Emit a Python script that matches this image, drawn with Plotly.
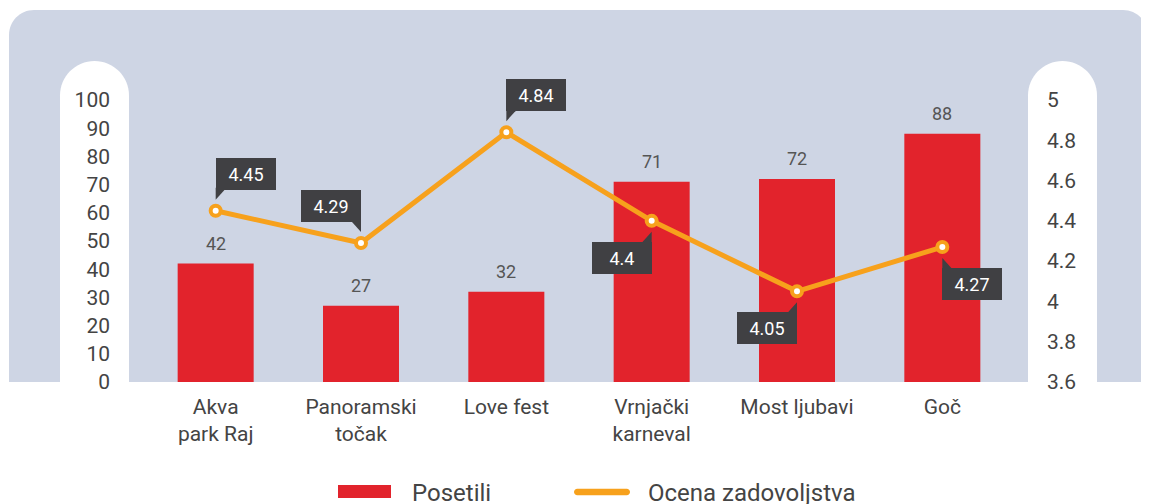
import plotly.graph_objects as go

# ---------------- data ----------------
categories = ["Akva<br>park Raj", "Panoramski<br>točak", "Love fest",
              "Vrnjački<br>karneval", "Most ljubavi", "Goč"]
visitors = [42, 27, 32, 71, 72, 88]
ratings = [4.45, 4.29, 4.84, 4.4, 4.05, 4.27]
rating_labels = ["4.45", "4.29", "4.84", "4.4", "4.05", "4.27"]
# callout placement: (horizontal side, vertical side): +1 right/above, -1 left/below
callout_side = [(1, 1), (-1, 1), (1, 1), (-1, -1), (-1, -1), (1, -1)]
left_ticks = [0, 10, 20, 30, 40, 50, 60, 70, 80, 90, 100]
right_ticks = [3.6, 3.8, 4.0, 4.2, 4.4, 4.6, 4.8, 5.0]
right_tick_text = ["3.6", "3.8", "4", "4.2", "4.4", "4.6", "4.8", "5"]
series_names = ["Posetili", "Ocena zadovoljstva"]

# ---------------- style ----------------
FONT = "Roboto"
RED = "#E2232C"
ORANGE = "#F7A11C"
BOX = "#404043"
BG = "#CED5E4"
TXT = "#444444"

fig = go.Figure()
fig.add_trace(go.Bar(x=categories, y=visitors, marker=dict(color=RED, line=dict(width=0)),
                     name=series_names[0], yaxis="y", showlegend=False, hoverinfo="x+y"))
fig.add_trace(go.Scatter(x=categories, y=ratings, mode="lines+markers", name=series_names[1],
                         yaxis="y2", showlegend=False,
                         line=dict(color=ORANGE, width=5),
                         marker=dict(size=10, color="white", line=dict(color=ORANGE, width=4))))

shapes = []
annotations = []

# background panel (pixel offsets relative to the plot area's top-left corner)
k = 0.5523
r = 25
L, R, T, B = -134, 1005, 90, -282
bg_path = (f"M {L},{B} L {L},{T - r} C {L},{T - r + k * r} {L + r - k * r},{T} {L + r},{T} "
           f"L {R - r},{T} C {R - r + k * r},{T} {R},{T - r + k * r} {R},{T - r} L {R},{B} Z")
shapes.append(dict(type="path", xref="paper", yref="paper", xsizemode="pixel", ysizemode="pixel",
                   xanchor=0, yanchor=1, path=bg_path, fillcolor=BG, line=dict(width=0), layer="below"))


def pill(x0, x1, top, bottom):
    rr = (x1 - x0) / 2
    cx = x0 + rr
    cy = top - rr
    return (f"M {x0},{bottom} L {x0},{cy} C {x0},{cy + k * rr} {cx - k * rr},{top} {cx},{top} "
            f"C {cx + k * rr},{top} {x1},{cy + k * rr} {x1},{cy} L {x1},{bottom} Z")


for x0, x1 in [(-83, -14), (885, 954)]:
    shapes.append(dict(type="path", xref="paper", yref="paper", xsizemode="pixel", ysizemode="pixel",
                       xanchor=0, yanchor=1, path=pill(x0, x1, 39, -282), fillcolor="white",
                       line=dict(width=0), layer="below"))

# bar value labels
for c, v in zip(categories, visitors):
    annotations.append(dict(x=c, y=v, xref="x", yref="y", text=str(v), showarrow=False,
                            yanchor="middle", yshift=20, font=dict(family=FONT, size=18, color="#555555")))

# rating callouts
for i, (c, v, lab, (sx, sy)) in enumerate(zip(categories, ratings, rating_labels, callout_side)):
    annotations.append(dict(x=c, y=v, xref="x", yref="y2", text=lab, showarrow=False,
                            xanchor="left" if sx > 0 else "right",
                            yanchor="bottom" if sy > 0 else "top",
                            yshift=21 * sy, width=60, height=32, borderpad=0, borderwidth=0,
                            bgcolor=BOX, align="center", valign="middle",
                            font=dict(family=FONT, size=18, color="white")))
    shapes.append(dict(type="path", xref="x", yref="y2", xsizemode="pixel", ysizemode="pixel",
                       xanchor=i, yanchor=v,
                       path=f"M 0,{11 * sy} L 0,{23 * sy} L {9 * sx},{23 * sy} L {9 * sx},{21 * sy} Z",
                       fillcolor=BOX, line=dict(width=0), layer="above"))

# custom legend (pixel offsets relative to plot area's bottom-left corner)
shapes.append(dict(type="rect", xref="paper", yref="paper", xsizemode="pixel", ysizemode="pixel",
                   xanchor=0, yanchor=0, x0=195, x1=248, y0=-103, y1=-116,
                   fillcolor=RED, line=dict(width=0)))
lr = 3.3
lx0, lx1, ly = 431, 487, -110
leg_line = (f"M {lx0 + lr},{ly + lr} L {lx1 - lr},{ly + lr} C {lx1 - lr + k * lr},{ly + lr} {lx1},{ly + k * lr} {lx1},{ly} "
            f"C {lx1},{ly - k * lr} {lx1 - lr + k * lr},{ly - lr} {lx1 - lr},{ly - lr} L {lx0 + lr},{ly - lr} "
            f"C {lx0 + lr - k * lr},{ly - lr} {lx0},{ly - k * lr} {lx0},{ly} C {lx0},{ly + k * lr} {lx0 + lr - k * lr},{ly + lr} {lx0 + lr},{ly + lr} Z")
shapes.append(dict(type="path", xref="paper", yref="paper", xsizemode="pixel", ysizemode="pixel",
                   xanchor=0, yanchor=0, path=leg_line, fillcolor=ORANGE, line=dict(width=0)))
for name, xs in zip(series_names, [267, 503]):
    annotations.append(dict(x=0, y=0, xref="paper", yref="paper", text=name, showarrow=False,
                            xanchor="left", yanchor="middle", xshift=xs, yshift=-111,
                            font=dict(family=FONT, size=24, color=TXT)))

fig.update_layout(
    width=1141, height=496, autosize=False,
    margin=dict(l=135, r=134, t=92, b=122),
    paper_bgcolor="white", plot_bgcolor="rgba(0,0,0,0)",
    font=dict(family=FONT, color=TXT),
    bargap=0.477,
    showlegend=False,
    xaxis=dict(type="category", showgrid=False, zeroline=False, showline=False, ticks="",
               tickfont=dict(family=FONT, size=21, color=TXT), ticklabelstandoff=10),
    yaxis=dict(range=[0, 100], tickvals=left_ticks, showgrid=False, zeroline=False, showline=False,
               ticks="", tickfont=dict(family=FONT, size=21, color=TXT), ticklabelstandoff=32),
    yaxis2=dict(range=[3.6, 5.0], tickvals=right_ticks, ticktext=right_tick_text, overlaying="y",
                side="right", showgrid=False, zeroline=False, showline=False, ticks="",
                tickfont=dict(family=FONT, size=21, color=TXT), ticklabelstandoff=31),
    shapes=shapes,
    annotations=annotations,
)

fig.write_html("out.html")
